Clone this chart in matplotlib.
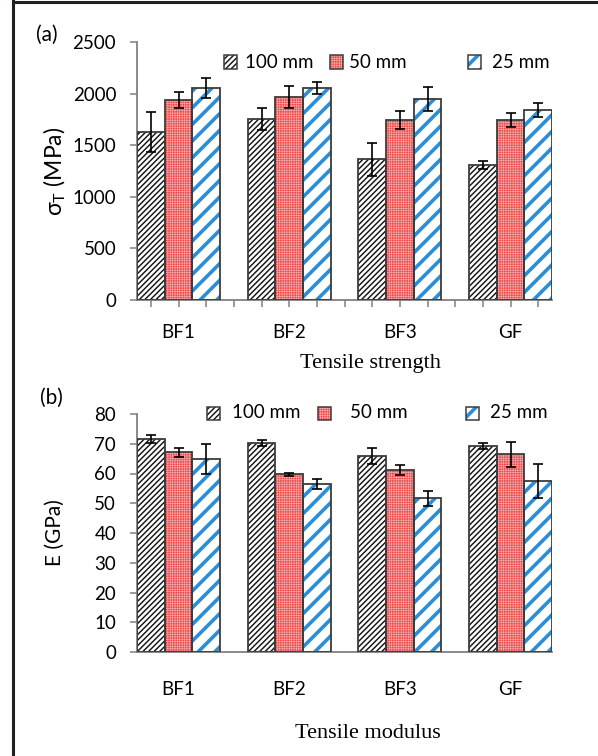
import matplotlib
matplotlib.use("Agg")
import matplotlib.pyplot as plt
from matplotlib.patches import Rectangle
import numpy as np

plt.rcParams['font.family'] = ['Lato', 'DejaVu Sans']

# ---- data -------------------------------------------------------------
fibres = ['BF1', 'BF2', 'BF3', 'GF']
lengths = ['100 mm', '50 mm', '25 mm']

strength_100 = [1628, 1754, 1366, 1308]
strength_100_err = [195, 110, 160, 35]
strength_50 = [1938, 1967, 1744, 1744]
strength_50_err = [80, 107, 87, 68]
strength_25 = [2054, 2054, 1948, 1841]
strength_25_err = [100, 57, 112, 68]

modulus_100 = [71.7, 70.1, 65.9, 69.3]
modulus_100_err = [1.4, 1.0, 2.8, 1.1]
modulus_50 = [67.1, 59.7, 61.2, 66.4]
modulus_50_err = [1.4, 0.5, 1.7, 4.2]
modulus_25 = [64.9, 56.5, 51.7, 57.5]
modulus_25_err = [4.9, 1.7, 2.5, 5.6]

strength_ticks = [0, 500, 1000, 1500, 2000, 2500]
modulus_ticks = [0, 10, 20, 30, 40, 50, 60, 70, 80]

# ---- styles -----------------------------------------------------------
W, H = 598, 756
EDGE = '#3c3c3c'
SPINE = '#808080'
styles = [
    dict(face='white', hatch='//////', hcolor='#151515', hlw=1.05),
    dict(face='#EE4848', hatch='+++++++', hcolor='#F8A8A8', hlw=0.45),
    dict(face='white', hatch='//', hcolor='#2B8ED6', hlw=2.6),
]


def fx(px):
    return px / W


def fy(py):
    return 1 - py / H


def hatched(patch, st):
    patch.set_facecolor(st['face'])
    patch.set_edgecolor(st['hcolor'])
    patch.set_hatch(st['hatch'])
    patch.set_linewidth(0)
    if hasattr(patch, 'set_hatch_linewidth'):
        patch.set_hatch_linewidth(st['hlw'])


fig = plt.figure(figsize=(W / 100, H / 100), dpi=100)

# thin frame on the left and top of the figure
fig.add_artist(plt.Line2D([fx(13), fx(13)], [0, fy(1)], color='#231f20',
                          lw=2.2, transform=fig.transFigure))
fig.add_artist(plt.Line2D([fx(13), 1], [fy(1.5), fy(1.5)], color='#231f20',
                          lw=2.2, transform=fig.transFigure))


def panel(rect, series, errors, ticks, ylim, ylabel, ylabel_size, xlabel,
          xlabel_pos, letter, letter_pos, legend_y, legend_boxes,
          legend_texts, show_xticks, ticklabel_pad):
    ax = fig.add_axes(rect)
    n_groups = len(fibres)
    n_series = len(series)
    slot = n_series + 1
    for s, (vals, errs) in enumerate(zip(series, errors)):
        x = np.arange(n_groups) * slot + s
        st = styles[s]
        bars = ax.bar(x, vals, width=1.0, zorder=2)
        for b in bars:
            hatched(b, st)
        ax.bar(x, vals, width=1.0, fill=False, edgecolor=EDGE,
               linewidth=1.3, zorder=3)
        ax.errorbar(x, vals, yerr=errs, fmt='none', ecolor='black',
                    elinewidth=1.2, capsize=3.6, capthick=1.2, zorder=4)

    total = n_groups * slot - 1
    ax.set_xlim(-0.5, total - 0.5)
    ax.set_ylim(*ylim)
    ax.set_yticks(ticks)
    ax.set_yticklabels([str(t) for t in ticks], fontsize=13.5)
    centres = np.arange(n_groups) * slot + (n_series - 1) / 2
    ax.set_xticks(centres)
    ax.set_xticklabels(fibres, fontsize=13.5)
    if show_xticks:
        ax.set_xticks([i for i in range(total) if i not in centres],
                      minor=True)
        ax.tick_params(axis='x', which='both', length=5, width=1.1,
                       color=SPINE, pad=ticklabel_pad)
    else:
        ax.tick_params(axis='x', which='both', length=0, pad=ticklabel_pad)
    ax.tick_params(axis='y', length=5, width=1.1, color=SPINE, pad=10)

    for side in ('top', 'right'):
        ax.spines[side].set_visible(False)
    for side in ('left', 'bottom'):
        ax.spines[side].set_color(SPINE)
        ax.spines[side].set_linewidth(1.3)

    ax.set_ylabel(ylabel, fontsize=ylabel_size)
    ax.yaxis.label.set_va('center')
    ax.yaxis.set_label_coords((fx(55) - rect[0]) / rect[2], 0.5)
    ax.set_xlabel(xlabel, fontsize=16, family=['Liberation Serif'])
    ax.xaxis.label.set_va('center')
    ax.xaxis.set_label_coords((fx(xlabel_pos[0]) - rect[0]) / rect[2],
                              (fy(xlabel_pos[1]) - rect[1]) / rect[3])

    fig.text(fx(letter_pos[0]), fy(letter_pos[1]), letter, fontsize=15,
             ha='left', va='center')

    # legend
    for s, (bx, tx) in enumerate(zip(legend_boxes, legend_texts)):
        r = Rectangle((fx(bx), fy(legend_y + 6.5)), 13 / W, 13 / H,
                      transform=fig.transFigure)
        hatched(r, styles[s])
        fig.add_artist(r)
        fig.add_artist(Rectangle((fx(bx), fy(legend_y + 6.5)), 13 / W, 13 / H,
                                 transform=fig.transFigure, fill=False,
                                 edgecolor=EDGE, linewidth=1.1))
        fig.text(fx(tx), fy(legend_y), lengths[s], fontsize=13.5,
                 ha='left', va='center')
    return ax


rect_a = [fx(137), fy(300), fx(552) - fx(137), fy(42) - fy(300)]
panel(rect_a, [strength_100, strength_50, strength_25],
      [strength_100_err, strength_50_err, strength_25_err],
      strength_ticks, (0, 2500), r'σ$_\mathregular{T}$ (MPa)', 16.5,
      'Tensile strength', (370, 363), '(a)', (36, 35),
      62, [224, 330, 468], [245, 349, 492], True, 12)

rect_b = [fx(137), fy(652), fx(552) - fx(137), fy(414) - fy(652)]
panel(rect_b, [modulus_100, modulus_50, modulus_25],
      [modulus_100_err, modulus_50_err, modulus_25_err],
      modulus_ticks, (0, 80), 'E (GPa)', 15,
      'Tensile modulus', (368, 733), '(b)', (40, 398),
      413, [207, 318, 466], [232, 350, 490], False, 21)

fig.savefig('out.png', dpi=100)
